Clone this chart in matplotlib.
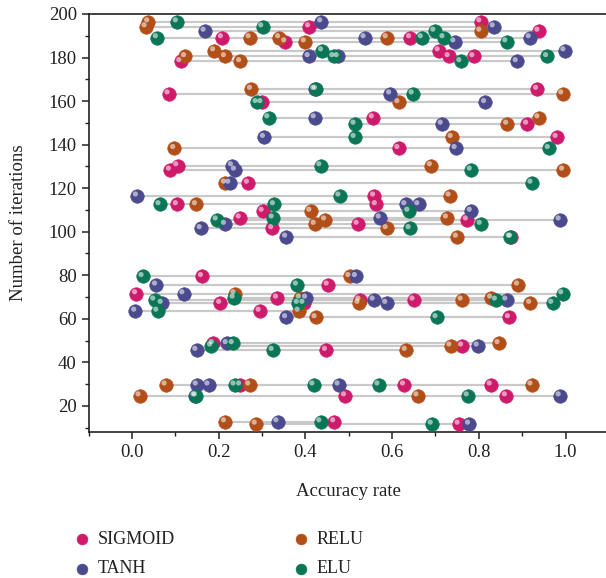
import numpy as np
import matplotlib
matplotlib.use('Agg')
import matplotlib.pyplot as plt
from matplotlib import transforms

plt.rcParams['font.family'] = ['Liberation Serif', 'DejaVu Serif']

# accuracy rate / number of iterations
sig_x = [0.804, 0.409, 0.938, 0.208, 0.642, 0.354, 0.708, 0.731, 0.788, 0.112, 0.935, 0.085, 0.299, 0.556, 0.912,
         0.980, 0.615, 0.105, 0.088, 0.268, 0.559, 0.104, 0.563, 0.302, 0.249, 0.773, 0.521, 0.324, 0.875, 0.162,
         0.452, 0.010, 0.335, 0.525, 0.650, 0.204, 0.396, 0.295, 0.870, 0.187, 0.762, 0.448, 0.250, 0.628, 0.828,
         0.492, 0.863, 0.467, 0.754]
sig_y = [196.5, 194.2, 192.2, 189.2, 189.2, 187.3, 183.2, 180.5, 180.5, 178.2, 165.5, 163.4, 159.4, 152.4, 149.5,
         143.4, 138.3, 130.4, 128.4, 122.4, 116.5, 112.5, 112.5, 109.5, 106.4, 105.5, 103.5, 101.5, 97.6, 79.5,
         75.6, 71.6, 69.6, 68.7, 68.7, 67.2, 67.2, 63.6, 60.6, 48.7, 47.6, 45.6, 29.7, 29.7, 29.7,
         24.7, 24.7, 12.8, 11.7]

relu_x = [0.038, 0.032, 0.804, 0.272, 0.340, 0.588, 0.399, 0.190, 0.123, 0.215, 0.250, 0.275, 0.993, 0.615, 0.938,
          0.866, 0.738, 0.098, 0.690, 0.995, 0.215, 0.733, 0.148, 0.412, 0.727, 0.446, 0.422, 0.588, 0.750, 0.502,
          0.891, 0.237, 0.829, 0.388, 0.761, 0.523, 0.919, 0.385, 0.424, 0.846, 0.735, 0.632, 0.078, 0.271, 0.922,
          0.018, 0.659, 0.215, 0.286]
relu_y = [196.5, 194.2, 192.2, 189.2, 189.2, 189.2, 187.3, 183.2, 180.5, 180.5, 178.2, 165.5, 163.4, 159.4, 152.4,
          149.5, 143.4, 138.3, 130.4, 128.4, 122.4, 116.5, 112.5, 109.5, 106.4, 105.5, 103.5, 101.5, 97.6, 79.5,
          75.6, 71.6, 69.6, 69.6, 68.7, 67.2, 67.2, 63.6, 60.6, 48.7, 47.6, 45.6, 29.7, 29.7, 29.7,
          24.7, 24.7, 12.8, 11.7]

tanh_x = [0.437, 0.835, 0.168, 0.537, 0.918, 0.744, 0.998, 0.408, 0.475, 0.888, 0.421, 0.596, 0.815, 0.422, 0.715,
          0.305, 0.747, 0.231, 0.238, 0.225, 0.012, 0.631, 0.661, 0.782, 0.572, 0.987, 0.215, 0.159, 0.356, 0.517,
          0.056, 0.119, 0.402, 0.558, 0.864, 0.069, 0.587, 0.008, 0.356, 0.219, 0.798, 0.149, 0.150, 0.177, 0.477,
          0.987, 0.145, 0.336, 0.778]
tanh_y = [196.5, 194.2, 192.2, 189.2, 189.2, 187.3, 183.2, 180.5, 180.5, 178.2, 165.5, 163.4, 159.4, 152.4, 149.5,
          143.4, 138.3, 130.4, 128.4, 122.4, 116.5, 112.5, 112.5, 109.5, 106.4, 105.5, 103.5, 101.5, 97.6, 79.5,
          75.6, 71.6, 69.6, 68.7, 68.7, 67.2, 67.2, 63.6, 60.6, 48.7, 47.6, 45.6, 29.7, 29.7, 29.7,
          24.7, 24.7, 12.8, 11.7]

elu_x = [0.104, 0.301, 0.698, 0.058, 0.669, 0.719, 0.864, 0.439, 0.465, 0.958, 0.758, 0.425, 0.648, 0.288, 0.315,
         0.514, 0.514, 0.962, 0.435, 0.782, 0.922, 0.479, 0.064, 0.328, 0.638, 0.325, 0.196, 0.805, 0.641, 0.872,
         0.025, 0.381, 0.993, 0.235, 0.052, 0.840, 0.383, 0.970, 0.059, 0.703, 0.233, 0.183, 0.325, 0.237, 0.419,
         0.569, 0.148, 0.775, 0.435, 0.692]
elu_y = [196.5, 194.2, 192.2, 189.2, 189.2, 189.2, 187.3, 183.2, 180.5, 180.5, 178.2, 165.5, 163.4, 159.4, 152.4,
         149.5, 143.4, 138.3, 130.4, 128.4, 122.4, 116.5, 112.5, 112.5, 109.5, 106.4, 105.5, 103.5, 101.5, 97.6,
         79.5, 75.6, 71.6, 69.6, 68.7, 68.7, 67.2, 67.2, 63.6, 60.6, 48.7, 47.6, 45.6, 29.7, 29.7,
         29.7, 24.7, 24.7, 12.8, 11.7]

series = [('SIGMOID', sig_x, sig_y, '#cf1a6c'),
          ('RELU', relu_x, relu_y, '#b24f19'),
          ('TANH', tanh_x, tanh_y, '#4b4a8e'),
          ('ELU', elu_x, elu_y, '#0a7656')]

fig = plt.figure(figsize=(6.06, 5.78), dpi=100)
ax = fig.add_axes([0.1463, 0.2526, 1.0048 - 0.1463, 0.9758 - 0.2526])

# gray connecting lines per iteration level
all_x = np.concatenate([np.array(s[1]) for s in series])
all_y = np.concatenate([np.array(s[2]) for s in series])
for yv in np.unique(all_y):
    xs = all_x[all_y == yv]
    ax.plot([xs.min(), xs.max()], [yv, yv], color='#c9c9c9', lw=1.6, zorder=1, solid_capstyle='butt')

hl = transforms.offset_copy(ax.transData, fig=fig, x=-1.8, y=1.8, units='dots')
handles = {}
for name, xs, ys, c in series:
    handles[name] = ax.scatter(xs, ys, s=95, color=c, edgecolors=c, linewidths=0.4, zorder=3, label=name)
    ax.scatter(xs, ys, s=14, color='white', alpha=0.55, edgecolors='none', zorder=4, transform=hl)

ax.set_xlim(-0.1, 1.1)
ax.set_ylim(8, 200)
ax.set_xticks([0.0, 0.2, 0.4, 0.6, 0.8, 1.0])
ax.set_xticks(np.arange(-0.1, 1.1, 0.1), minor=True)
ax.set_yticks(np.arange(20, 201, 20))
ax.set_yticks(np.arange(10, 201, 10), minor=True)
ax.spines['right'].set_visible(False)
for sp in ax.spines.values():
    sp.set_linewidth(1.2)
    sp.set_color('#222222')
ax.tick_params(which='major', direction='out', length=5, width=1.1, labelsize=13.5, colors='#222222')
ax.tick_params(which='minor', direction='out', length=3, width=1.0, colors='#222222')
ax.set_xlabel('Accuracy rate', fontsize=13.5, color='#222222', labelpad=16)
ax.set_ylabel('Number of iterations', fontsize=13.5, color='#222222', labelpad=16)

order = ['SIGMOID', 'TANH', 'RELU', 'ELU']
fig.legend([handles[n] for n in order], order, ncol=2, frameon=False, fontsize=13,
           loc='upper left', bbox_to_anchor=(0.095, 0.11), columnspacing=6.55,
           handlelength=0.9, handletextpad=0.42, labelspacing=0.7, markerscale=0.8,
           labelcolor='#222222')

fig.savefig('out.png', dpi=100)
